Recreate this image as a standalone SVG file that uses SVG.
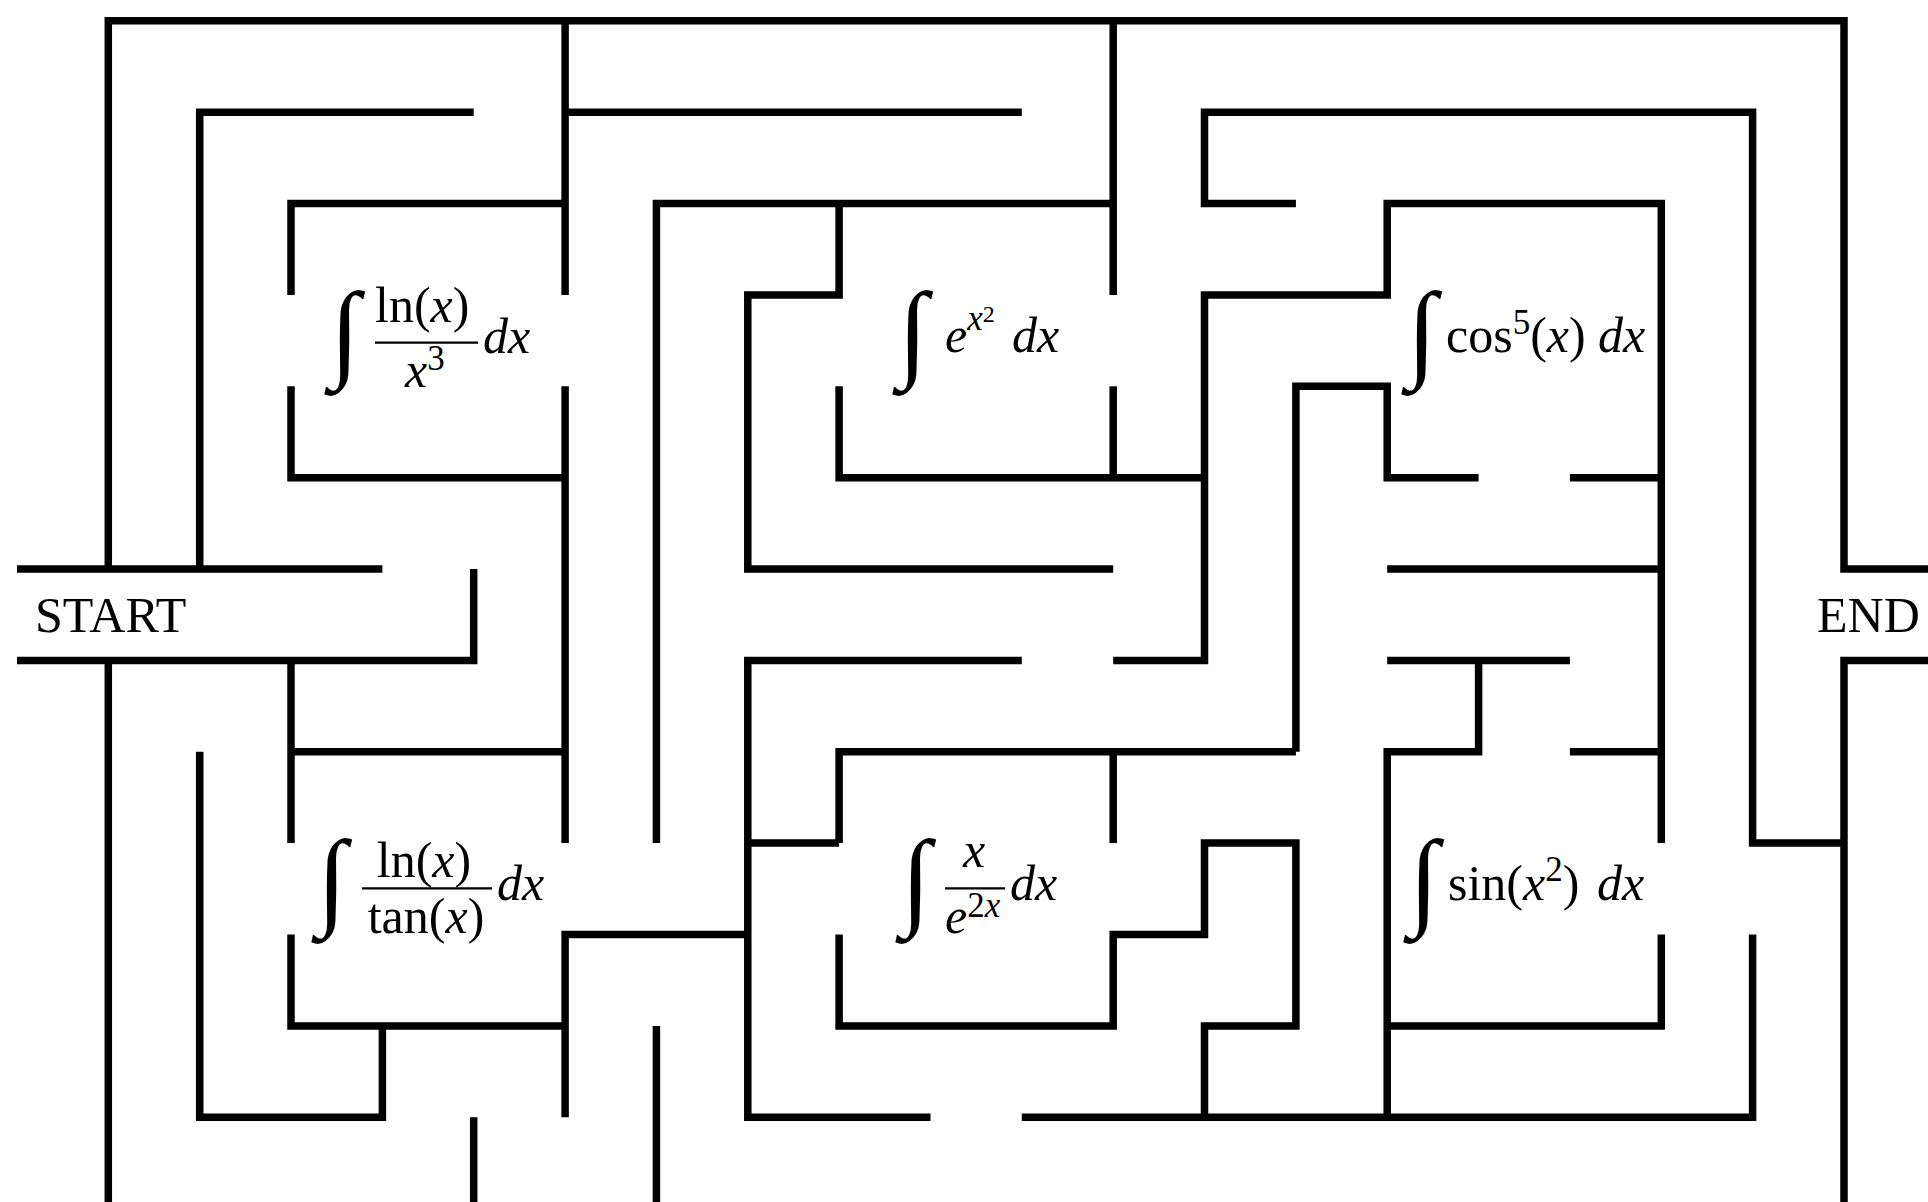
<svg xmlns="http://www.w3.org/2000/svg" width="1928" height="1202" viewBox="0 0 1928 1202">
<style>
.w{fill:none;stroke:#000;stroke-width:7.5;stroke-linecap:butt;stroke-linejoin:miter}
.t{font-family:"Liberation Serif",serif;font-size:50px;fill:#000}
.i{font-style:italic}
.s{font-size:35px}
.ss{font-size:24px}
.int{font-family:"Liberation Serif",serif;font-size:108px;fill:#000;text-anchor:middle}
.bar{stroke:#000;stroke-width:2.2}
</style>
<rect width="1928" height="1202" fill="#fff"/>
<g id="walls">
<polyline class="w" points="108.3,569 108.3,20.8 1844,20.8 1844,569 1930,569"/>
<polyline class="w" points="17,569 382.4,569"/>
<polyline class="w" points="199.7,569 199.7,112.2 473.7,112.2"/>
<polyline class="w" points="565.1,20.8 565.1,294.9"/>
<polyline class="w" points="565.1,112.2 1021.8,112.2"/>
<polyline class="w" points="291,294.9 291,203.5 565.1,203.5"/>
<polyline class="w" points="291,386.3 291,477.7 565.1,477.7"/>
<polyline class="w" points="565.1,386.3 565.1,843.1"/>
<polyline class="w" points="291,751.8 565.1,751.8"/>
<polyline class="w" points="291,660.4 291,843.1"/>
<polyline class="w" points="17,660.4 473.7,660.4 473.7,569"/>
<polyline class="w" points="108.3,660.4 108.3,1205"/>
<polyline class="w" points="199.7,751.8 199.7,1117.2 382.4,1117.2 382.4,1025.9"/>
<polyline class="w" points="291,934.5 291,1025.9 565.1,1025.9"/>
<polyline class="w" points="565.1,1117.2 565.1,934.5 747.8,934.5"/>
<polyline class="w" points="473.7,1117.2 473.7,1205"/>
<polyline class="w" points="656.4,1025.9 656.4,1205"/>
<polyline class="w" points="656.4,843.1 656.4,203.5 1113.2,203.5"/>
<polyline class="w" points="1113.2,20.8 1113.2,294.9"/>
<polyline class="w" points="839.1,203.5 839.1,294.9 747.8,294.9 747.8,569 1113.2,569"/>
<polyline class="w" points="839.1,386.3 839.1,477.7 1204.5,477.7"/>
<polyline class="w" points="1113.2,386.3 1113.2,477.7"/>
<polyline class="w" points="1113.2,660.4 1204.5,660.4 1204.5,294.9 1387.2,294.9 1387.2,203.5 1661.3,203.5 1661.3,843.1"/>
<polyline class="w" points="1295.9,203.5 1204.5,203.5 1204.5,112.2 1752.6,112.2 1752.6,843.1 1844,843.1"/>
<polyline class="w" points="1930,660.4 1844,660.4 1844,1205"/>
<polyline class="w" points="1295.9,751.8 1295.9,386.3 1387.2,386.3 1387.2,477.7 1478.6,477.7"/>
<polyline class="w" points="1569.9,477.7 1661.3,477.7"/>
<polyline class="w" points="1387.2,569 1661.3,569"/>
<polyline class="w" points="839.1,843.1 839.1,751.8 1295.9,751.8"/>
<polyline class="w" points="1021.8,660.4 747.8,660.4 747.8,1117.2 930.5,1117.2"/>
<polyline class="w" points="747.8,843.1 839.1,843.1"/>
<polyline class="w" points="1113.2,751.8 1113.2,843.1"/>
<polyline class="w" points="839.1,934.5 839.1,1025.9 1113.2,1025.9 1113.2,934.5 1204.5,934.5 1204.5,843.1 1295.9,843.1 1295.9,1025.9 1204.5,1025.9 1204.5,1117.2"/>
<polyline class="w" points="1021.8,1117.2 1752.6,1117.2 1752.6,934.5"/>
<polyline class="w" points="1387.2,1117.2 1387.2,751.8 1478.6,751.8 1478.6,660.4"/>
<polyline class="w" points="1387.2,660.4 1569.9,660.4"/>
<polyline class="w" points="1569.9,751.8 1661.3,751.8"/>
<polyline class="w" points="1387.2,1025.9 1661.3,1025.9 1661.3,934.5"/>
</g>
<g id="start"><text class="t" x="35" y="632">START</text></g>
<g id="end"><text class="t" x="1817" y="632">END</text></g>
<g id="int1">
<text class="int" x="345" y="367">∫</text>
<text class="t" x="375" y="322">ln(<tspan class="i">x</tspan>)</text>
<line class="bar" x1="375" y1="342.7" x2="478" y2="342.7"/>
<text class="t" x="405" y="387"><tspan class="i">x</tspan><tspan class="s" dy="-17">3</tspan></text>
<text class="t i" x="483" y="353">dx</text>
</g>
<g id="int2">
<text class="int" x="913" y="367">∫</text>
<text class="t" x="945" y="352"><tspan class="i">e</tspan><tspan class="s i" dy="-22">x</tspan><tspan class="ss" dy="-8">2</tspan></text>
<text class="t i" x="1012" y="352">dx</text>
</g>
<g id="int3">
<text class="int" x="1422" y="367">∫</text>
<text class="t" x="1446" y="352">cos<tspan class="s" dy="-18">5</tspan><tspan dy="18">(</tspan><tspan class="i">x</tspan>)<tspan class="i" x="1598">dx</tspan></text>
</g>
<g id="int4">
<text class="int" x="332" y="915">∫</text>
<text class="t" x="424" y="877" text-anchor="middle">ln(<tspan class="i">x</tspan>)</text>
<line class="bar" x1="362" y1="888.3" x2="492" y2="888.3"/>
<text class="t" x="426" y="933" text-anchor="middle">tan(<tspan class="i">x</tspan>)</text>
<text class="t i" x="497" y="900">dx</text>
</g>
<g id="int5">
<text class="int" x="916" y="915">∫</text>
<text class="t i" x="974" y="867" text-anchor="middle">x</text>
<line class="bar" x1="945" y1="888.3" x2="1005" y2="888.3"/>
<text class="t" x="945" y="933"><tspan class="i">e</tspan><tspan class="s" dy="-16">2</tspan><tspan class="s i">x</tspan></text>
<text class="t i" x="1010" y="900">dx</text>
</g>
<g id="int6">
<text class="int" x="1424" y="915">∫</text>
<text class="t" x="1448" y="900">sin(<tspan class="i">x</tspan><tspan class="s" dy="-19">2</tspan><tspan dy="19">)</tspan><tspan class="i" x="1597">dx</tspan></text>
</g>
</svg>
